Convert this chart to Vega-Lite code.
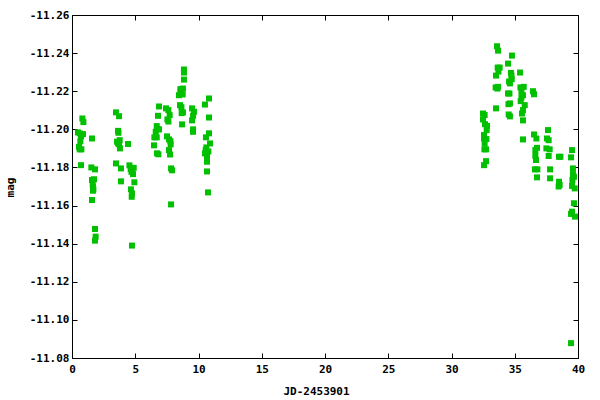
{
  "$schema": "https://vega.github.io/schema/vega-lite/v6.json",
  "width": 506,
  "height": 343,
  "autosize": "none",
  "padding": {"left": 72, "top": 15, "right": 22, "bottom": 42},
  "background": "white",
  "config": {
    "view": {"stroke": "black", "strokeWidth": 1},
    "axis": {
      "labelFont": "DejaVu Sans Mono",
      "labelFontSize": 11,
      "labelFontWeight": "bold",
      "labelColor": "black",
      "labelFlush": false,
      "labelOverlap": false,
      "titleFont": "DejaVu Sans Mono",
      "titleFontSize": 11,
      "titleFontWeight": "bold",
      "titleColor": "black",
      "grid": false,
      "domain": false,
      "tickColor": "black",
      "tickSize": -5,
      "tickWidth": 1
    }
  },
  "data": {
    "values": [
      {"jd": 0.82, "mag": -11.2057}, {"jd": 0.90, "mag": -11.2038}, {"jd": 0.47, "mag": -11.1984}, {"jd": 0.61, "mag": -11.1979},
      {"jd": 0.87, "mag": -11.1975}, {"jd": 0.71, "mag": -11.1964}, {"jd": 0.66, "mag": -11.1937}, {"jd": 0.55, "mag": -11.1908},
      {"jd": 0.61, "mag": -11.1895}, {"jd": 0.74, "mag": -11.1895}, {"jd": 1.58, "mag": -11.1952}, {"jd": 0.71, "mag": -11.1812},
      {"jd": 1.53, "mag": -11.1800}, {"jd": 1.82, "mag": -11.1790}, {"jd": 1.58, "mag": -11.1734}, {"jd": 1.74, "mag": -11.1738},
      {"jd": 1.64, "mag": -11.1708}, {"jd": 1.69, "mag": -11.1685}, {"jd": 1.66, "mag": -11.1678}, {"jd": 1.66, "mag": -11.1696},
      {"jd": 1.58, "mag": -11.1629}, {"jd": 1.82, "mag": -11.1477}, {"jd": 1.87, "mag": -11.1437}, {"jd": 1.82, "mag": -11.1416},
      {"jd": 3.48, "mag": -11.2089}, {"jd": 3.72, "mag": -11.2069}, {"jd": 3.64, "mag": -11.1992}, {"jd": 3.67, "mag": -11.1982},
      {"jd": 3.56, "mag": -11.1935}, {"jd": 3.77, "mag": -11.1943}, {"jd": 3.72, "mag": -11.1922}, {"jd": 3.79, "mag": -11.1900},
      {"jd": 3.64, "mag": -11.1926}, {"jd": 4.43, "mag": -11.1923}, {"jd": 3.48, "mag": -11.1821}, {"jd": 3.87, "mag": -11.1795},
      {"jd": 3.87, "mag": -11.1727}, {"jd": 4.54, "mag": -11.1811}, {"jd": 4.64, "mag": -11.1791}, {"jd": 4.88, "mag": -11.1798},
      {"jd": 4.70, "mag": -11.1777}, {"jd": 4.82, "mag": -11.1765}, {"jd": 4.93, "mag": -11.1722}, {"jd": 4.66, "mag": -11.1685},
      {"jd": 4.74, "mag": -11.1664}, {"jd": 4.72, "mag": -11.1646}, {"jd": 4.74, "mag": -11.1390},
      {"jd": 6.88, "mag": -11.2120}, {"jd": 6.80, "mag": -11.2071}, {"jd": 6.70, "mag": -11.2017}, {"jd": 6.80, "mag": -11.2000},
      {"jd": 6.62, "mag": -11.1987}, {"jd": 6.51, "mag": -11.1958}, {"jd": 6.70, "mag": -11.1958}, {"jd": 6.88, "mag": -11.2000},
      {"jd": 6.48, "mag": -11.1916}, {"jd": 6.72, "mag": -11.1874}, {"jd": 6.83, "mag": -11.1869}, {"jd": 7.43, "mag": -11.2110},
      {"jd": 7.62, "mag": -11.2101}, {"jd": 7.72, "mag": -11.2074}, {"jd": 7.54, "mag": -11.2052}, {"jd": 7.62, "mag": -11.2041},
      {"jd": 7.51, "mag": -11.1963}, {"jd": 7.67, "mag": -11.1947}, {"jd": 7.78, "mag": -11.1938}, {"jd": 7.80, "mag": -11.1921},
      {"jd": 7.67, "mag": -11.1891}, {"jd": 7.75, "mag": -11.1868}, {"jd": 7.83, "mag": -11.1795}, {"jd": 7.91, "mag": -11.1785},
      {"jd": 7.83, "mag": -11.1606},
      {"jd": 8.85, "mag": -11.2314}, {"jd": 8.85, "mag": -11.2298}, {"jd": 8.85, "mag": -11.2261}, {"jd": 8.57, "mag": -11.2211},
      {"jd": 8.77, "mag": -11.2214}, {"jd": 8.59, "mag": -11.2197}, {"jd": 8.46, "mag": -11.2179}, {"jd": 8.75, "mag": -11.2183},
      {"jd": 8.54, "mag": -11.2127}, {"jd": 8.65, "mag": -11.2116}, {"jd": 8.77, "mag": -11.2089}, {"jd": 8.67, "mag": -11.2085},
      {"jd": 8.70, "mag": -11.2026}, {"jd": 9.49, "mag": -11.2110}, {"jd": 9.64, "mag": -11.2092}, {"jd": 9.57, "mag": -11.2071},
      {"jd": 9.49, "mag": -11.2047}, {"jd": 9.57, "mag": -11.2000}, {"jd": 9.57, "mag": -11.1987},
      {"jd": 10.83, "mag": -11.2162}, {"jd": 10.51, "mag": -11.2130}, {"jd": 10.83, "mag": -11.2062}, {"jd": 10.83, "mag": -11.1979},
      {"jd": 10.91, "mag": -11.1926}, {"jd": 10.59, "mag": -11.1958}, {"jd": 10.62, "mag": -11.1905}, {"jd": 10.57, "mag": -11.1891},
      {"jd": 10.78, "mag": -11.1884}, {"jd": 10.51, "mag": -11.1874}, {"jd": 10.67, "mag": -11.1856}, {"jd": 10.67, "mag": -11.1830},
      {"jd": 10.67, "mag": -11.1779}, {"jd": 10.75, "mag": -11.1669},
      {"jd": 32.49, "mag": -11.2083}, {"jd": 32.62, "mag": -11.2075}, {"jd": 32.49, "mag": -11.2052}, {"jd": 32.65, "mag": -11.2027},
      {"jd": 32.81, "mag": -11.2018}, {"jd": 32.78, "mag": -11.1996}, {"jd": 32.57, "mag": -11.1970}, {"jd": 32.57, "mag": -11.1952},
      {"jd": 32.76, "mag": -11.1949}, {"jd": 32.62, "mag": -11.1926}, {"jd": 32.60, "mag": -11.1895}, {"jd": 32.73, "mag": -11.1895},
      {"jd": 32.73, "mag": -11.1833}, {"jd": 32.57, "mag": -11.1812},
      {"jd": 33.60, "mag": -11.2436}, {"jd": 33.68, "mag": -11.2413}, {"jd": 33.65, "mag": -11.2324}, {"jd": 33.81, "mag": -11.2324},
      {"jd": 33.71, "mag": -11.2303}, {"jd": 33.52, "mag": -11.2282}, {"jd": 33.49, "mag": -11.2220}, {"jd": 33.63, "mag": -11.2214},
      {"jd": 33.68, "mag": -11.2223}, {"jd": 33.52, "mag": -11.2110},
      {"jd": 34.78, "mag": -11.2387}, {"jd": 34.47, "mag": -11.2345}, {"jd": 34.70, "mag": -11.2296}, {"jd": 34.74, "mag": -11.2282},
      {"jd": 34.76, "mag": -11.2263}, {"jd": 34.55, "mag": -11.2251}, {"jd": 34.62, "mag": -11.2241}, {"jd": 34.47, "mag": -11.2188},
      {"jd": 34.58, "mag": -11.2188}, {"jd": 34.50, "mag": -11.2132}, {"jd": 34.62, "mag": -11.2136}, {"jd": 34.52, "mag": -11.2078},
      {"jd": 34.62, "mag": -11.2068},
      {"jd": 35.42, "mag": -11.2298}, {"jd": 35.45, "mag": -11.2220}, {"jd": 35.71, "mag": -11.2223}, {"jd": 35.53, "mag": -11.2197},
      {"jd": 35.65, "mag": -11.2179}, {"jd": 35.53, "mag": -11.2167}, {"jd": 35.47, "mag": -11.2148}, {"jd": 35.79, "mag": -11.2127},
      {"jd": 35.65, "mag": -11.2101}, {"jd": 35.57, "mag": -11.2083}, {"jd": 35.65, "mag": -11.2047}, {"jd": 35.65, "mag": -11.1947},
      {"jd": 36.44, "mag": -11.2200}, {"jd": 36.52, "mag": -11.2184}, {"jd": 36.52, "mag": -11.1973}, {"jd": 36.71, "mag": -11.1952},
      {"jd": 36.63, "mag": -11.1891}, {"jd": 36.76, "mag": -11.1903}, {"jd": 36.63, "mag": -11.1860}, {"jd": 36.68, "mag": -11.1839},
      {"jd": 36.60, "mag": -11.1790}, {"jd": 36.79, "mag": -11.1790}, {"jd": 36.76, "mag": -11.1748},
      {"jd": 37.63, "mag": -11.1996}, {"jd": 37.55, "mag": -11.1952}, {"jd": 37.68, "mag": -11.1943}, {"jd": 37.50, "mag": -11.1900},
      {"jd": 37.76, "mag": -11.1895}, {"jd": 37.68, "mag": -11.1860}, {"jd": 37.79, "mag": -11.1790}, {"jd": 37.79, "mag": -11.1743},
      {"jd": 38.50, "mag": -11.1856}, {"jd": 38.61, "mag": -11.1856}, {"jd": 38.50, "mag": -11.1725}, {"jd": 38.55, "mag": -11.1708},
      {"jd": 38.47, "mag": -11.1700},
      {"jd": 39.53, "mag": -11.1891}, {"jd": 39.45, "mag": -11.1853}, {"jd": 39.60, "mag": -11.1795}, {"jd": 39.60, "mag": -11.1765},
      {"jd": 39.68, "mag": -11.1751}, {"jd": 39.56, "mag": -11.1734}, {"jd": 39.53, "mag": -11.1703}, {"jd": 39.74, "mag": -11.1690},
      {"jd": 39.68, "mag": -11.1612}, {"jd": 39.53, "mag": -11.1568}, {"jd": 39.45, "mag": -11.1556}, {"jd": 39.76, "mag": -11.1542},
      {"jd": 39.45, "mag": -11.0878}
    ]
  },
  "layer": [
    {
      "mark": {"type": "square", "size": 36, "filled": true, "color": "#00c000", "opacity": 1},
      "encoding": {
        "x": {
          "field": "jd", "type": "quantitative",
          "scale": {"domain": [0, 40], "nice": false, "zero": false},
          "axis": {
            "orient": "bottom",
            "values": [0, 5, 10, 15, 20, 25, 30, 35, 40],
            "labelPadding": 10,
            "labelBaseline": "top",
            "title": "JD-2453901",
            "titleX": 244,
            "titleY": 33,
            "titleBaseline": "middle",
            "titleAnchor": "middle",
            "titleAlign": "center"
          }
        },
        "y": {
          "field": "mag", "type": "quantitative",
          "scale": {"domain": [-11.26, -11.08], "nice": false, "zero": false, "reverse": true},
          "axis": {
            "orient": "left",
            "values": [-11.26, -11.24, -11.22, -11.2, -11.18, -11.16, -11.14, -11.12, -11.1, -11.08],
            "labelExpr": "datum.value < 0 ? '-' + format(-datum.value, '.2f') : format(datum.value, '.2f')",
            "labelPadding": 8,
            "title": "mag",
            "titleX": -62,
            "titleY": 172,
            "titleAngle": -90,
            "titleBaseline": "middle",
            "titleAlign": "center"
          }
        }
      }
    },
    {
      "mark": {"type": "point", "opacity": 0},
      "encoding": {
        "x": {
          "field": "jd", "type": "quantitative",
          "axis": {"orient": "top", "values": [0, 5, 10, 15, 20, 25, 30, 35, 40], "labels": false, "title": null}
        },
        "y": {
          "field": "mag", "type": "quantitative",
          "axis": {"orient": "right", "values": [-11.26, -11.24, -11.22, -11.2, -11.18, -11.16, -11.14, -11.12, -11.1, -11.08], "labels": false, "title": null}
        }
      }
    }
  ],
  "resolve": {"axis": {"x": "independent", "y": "independent"}}
}
